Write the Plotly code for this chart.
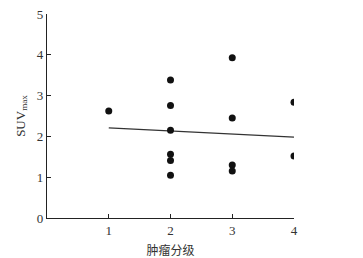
import plotly.graph_objects as go

grade = [1, 2, 2, 2, 2, 2, 2, 3, 3, 3, 3, 4, 4]
suv = [2.62, 3.38, 2.76, 2.15, 1.56, 1.41, 1.05, 3.93, 2.45, 1.30, 1.15, 2.84, 1.52]
fit_x = [1, 4]
fit_y = [2.21, 1.98]
xticks = [1, 2, 3, 4]
yticks = [0, 1, 2, 3, 4, 5]

fig = go.Figure()
fig.add_trace(go.Scatter(x=fit_x, y=fit_y, mode="lines",
                         line=dict(color="#333333", width=1.3), hoverinfo="skip"))
fig.add_trace(go.Scatter(x=grade, y=suv, mode="markers",
                         marker=dict(color="#111111", size=7)))

font = "Liberation Serif, Times New Roman, Noto Sans CJK SC, serif"
fig.update_layout(
    width=363, height=258,
    margin=dict(l=47, r=69, t=14, b=40, autoexpand=False),
    paper_bgcolor="white", plot_bgcolor="white",
    showlegend=False,
    font=dict(family=font, size=13, color="#333333"),
    xaxis=dict(range=[0, 4], tickvals=xticks, ticks="inside", ticklen=4,
               tickcolor="#222222", showline=True, linecolor="#222222", linewidth=1.3,
               showgrid=False, zeroline=False, automargin=False,
               tickfont=dict(color="#333333", size=13),
               title=dict(text="肿瘤分级", font=dict(family="Noto Sans CJK SC, serif", size=12, color="#333333"),
                          standoff=9)),
    yaxis=dict(range=[0, 5], tickvals=yticks, ticks="inside", ticklen=4,
               tickcolor="#222222", showline=True, linecolor="#222222", linewidth=1.3,
               showgrid=False, zeroline=False, automargin=False,
               tickfont=dict(color="#333333", size=13),
               title=dict(text="SUV<sub>max</sub>", font=dict(size=13, color="#333333"), standoff=8)),
)
fig.write_html("out.html", config={"displayModeBar": False},
               post_script="document.body.style.margin='0';document.body.style.overflow='hidden';")
